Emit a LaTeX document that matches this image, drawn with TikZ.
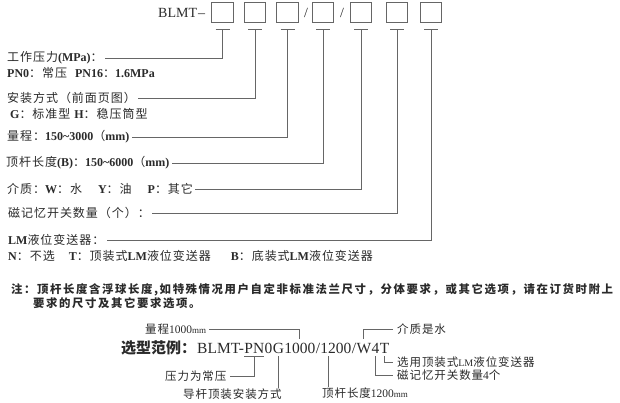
\documentclass[tikz,border=0pt]{standalone}
\usepackage{fontspec}
\setmainfont{Liberation Serif}
\newfontfamily\cjk[LetterSpace=8]{Noto Sans CJK SC}
\newfontfamily\cjkn{Noto Sans CJK SC}
\newfontfamily\cjknote[LetterSpace=14]{Noto Sans CJK SC}
\newcommand\z[1]{{\cjk\mdseries #1}}
\newcommand\smallmm{{\fontsize{9}{10}\selectfont mm}}
\definecolor{ln}{HTML}{666666}
\definecolor{tx}{HTML}{2A2A2A}
\tikzset{
  lbl/.style={anchor=west, inner sep=0pt, text=tx, font=\fontsize{12}{14}\selectfont\bfseries},
  exlbl/.style={anchor=west, inner sep=0pt, text=tx, font=\fontsize{11.5}{14}\selectfont},
  codebox/.style={draw=ln, line width=0.9pt, minimum width=21.5pt, minimum height=19.5pt, inner sep=0pt},
  conn/.style={draw=ln, line width=0.9pt},
  notetext/.style={anchor=west, inner sep=0pt, text=tx, font=\cjknote\bfseries\fontsize{11.4}{13}\selectfont},
  code/.style={anchor=base west, inner xsep=0pt, inner ysep=3pt, text height=11pt, text depth=0pt, text=tx, font=\fontsize{15.5}{18}\selectfont},
}
\begin{document}
\begin{tikzpicture}[x=1pt,y=-1pt]
\useasboundingbox (0,0) rectangle (620,403);

% ---- header ----
\node[anchor=west, inner sep=0pt, text=tx, font=\fontsize{14}{16}\selectfont] (hdr) at (158,13) {BLMT\kern1pt–};
\node[codebox] (b1) at (222.5,12.4) {};
\node[codebox] (b2) at (255,12.4) {};
\node[codebox] (b3) at (287.5,12.4) {};
\node[inner sep=0pt, text=tx, font=\fontsize{14}{16}\selectfont] (s1) at (306,13) {/};
\node[codebox] (b4) at (323,12.4) {};
\node[inner sep=0pt, text=tx, font=\fontsize{14}{16}\selectfont] (s2) at (342,13) {/};
\node[codebox] (b5) at (361,12.4) {};
\node[codebox] (b6) at (397,12.4) {};
\node[codebox] (b7) at (431,12.4) {};

\foreach \i in {1,...,7}{
  \coordinate (t\i) at ([yshift=-7.3pt]b\i.south);
  \draw[conn] ([xshift=-7pt]t\i) -- ([xshift=7pt]t\i);
}

% ---- labels ----
\node[lbl] (l1) at (7,58) {\z{工作压力}(MPa)\z{：}};
\node[lbl] (p1) at (7,73) {PN0\z{：常压}\hspace{8pt}PN16\z{：}1.6MPa};
\node[lbl] (l2) at (7,98) {\z{安装方式（前面页图）}};
\node[lbl] (g1) at (10,114) {G\z{：标准型}\hspace{4pt}H\z{：稳压筒型}};
\node[lbl] (l3) at (7,137) {\z{量程：}150\textasciitilde3000\z{（}mm)};
\node[lbl] (l4) at (6,163) {\z{顶杆长度}(B)\z{：}150\textasciitilde6000\z{（}mm)};
\node[lbl] (l5) at (7,189) {\z{介质：}W\z{：水}\hspace{16pt}Y\z{：油}\hspace{16pt}P\z{：其它}};
\node[lbl] (l6) at (8,213) {\z{磁记忆开关数量（个）：}};
\node[lbl] (l7) at (8,240) {LM\z{液位变送器：}};
\node[lbl] (n1) at (8,256) {N\z{：不选}\hspace{14pt}T\z{：顶装式}LM\z{液位变送器}\hspace{20pt}B\z{：底装式}LM\z{液位变送器}};

\foreach \i in {1,...,7}{
  \draw[conn] (t\i) |- ([xshift=2pt]l\i.east);
}

% ---- note ----
\node[notetext] (note1) at (11,290) {注：顶杆长度含浮球长度,如特殊情况用户自定非标准法兰尺寸，分体要求，或其它选项，请在订货时附上};
\node[notetext] (note2) at (33,303) {要求的尺寸及其它要求选项。};

% ---- example ----
\node[anchor=west, inner sep=0pt, text=tx, font=\cjkn\bfseries\fontsize{15}{18}\selectfont] (ex) at (121,348) {选型范例：};
\node[code] (c1) at (197,353) {BLMT-};
\node[code] (c2) at (c1.base east) {PN};
\node[code] (c3) at (c2.base east) {0};
\node[code] (c4) at (c3.base east) {G};
\node[code] (c5) at (c4.base east) {1000};
\node[code] (c6) at (c5.base east) {/};
\node[code] (c7) at (c6.base east) {1200};
\node[code] (c8) at (c7.base east) {/};
\node[code] (c9) at (c8.base east) {W};
\node[code] (c10) at (c9.base east) {4};
\node[code] (c11) at (c10.base east) {T};

\node[exlbl] (rng) at (145,329) {\z{量程}1000\smallmm};
\node[exlbl] (pr) at (165,376) {\z{压力为常压}};
\node[exlbl] (guide) at (183,394) {\z{导杆顶装安装方式}};
\node[exlbl] (rod) at (322,393) {\z{顶杆长度}1200\smallmm};
\node[exlbl] (med) at (397,329) {\z{介质是水}};
\node[exlbl] (top) at (397,362) {\z{选用顶装式}{\fontsize{10}{12}\selectfont LM}\z{液位变送器}};
\node[exlbl] (sw) at (397,375) {\z{磁记忆开关数量}4\z{个}};

\draw[conn] (c2.south west) -- (c2.south east);
\draw[conn] (c2.south) |- ([xshift=3pt]pr.east);
\draw[conn] (c4.south) -- (c4.south |- guide.north);
\draw[conn] ([xshift=3pt]rng.east) -| (c5.north);
\draw[conn] ([xshift=-8pt]c7.south) -- ([xshift=-8pt]c7.south |- rod.north);
\draw[conn] (c9.north) |- ([xshift=-4pt]med.west);
\draw[conn] (c11.south) |- ([xshift=-4pt]top.west);
\draw[conn] (c10.south) |- ([xshift=-4pt]sw.west);
\end{tikzpicture}
\end{document}
